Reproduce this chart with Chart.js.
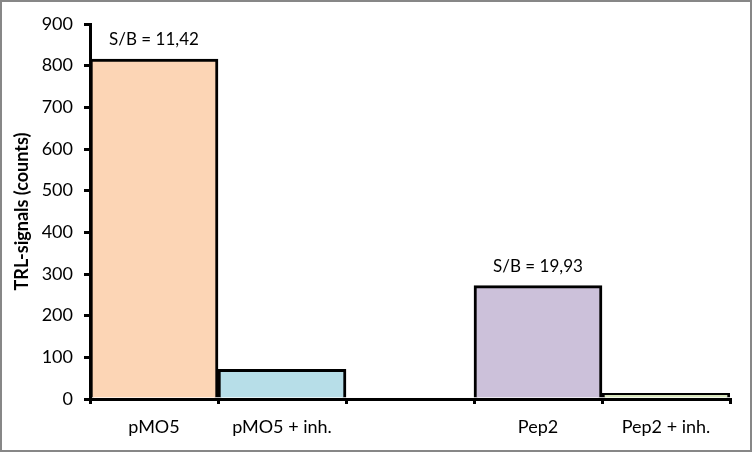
<!DOCTYPE html>
<html>
<head>
<meta charset="utf-8">
<script src="https://cdn.jsdelivr.net/npm/chart.js@4"></script>
<style>
html,body{margin:0;padding:0;background:#fff;}
#wrap{width:752px;height:452px;box-sizing:border-box;border:2px solid #878787;background:#fff;}
canvas{display:block;}
</style>
</head>
<body>
<div id="wrap"><canvas id="c" width="748" height="448"></canvas></div>
<script>
const categories = ['pMO5', 'pMO5 + inh.', '', 'Pep2', 'Pep2 + inh.'];
const signals = [816, 71.5, null, 272, 13.6];
const ratioLabels = ['S/B = 11,42', '', '', 'S/B = 19,93', ''];
const barColors = ['#fcd5b5', '#b7dee8', '#ffffff', '#ccc1da', '#d7e4bd'];
const yTicks = [0, 100, 200, 300, 400, 500, 600, 700, 800, 900];

const FONT = 'Lato, "Open Sans", sans-serif';

const ratioPlugin = {
  id: 'ratio',
  afterDatasetsDraw(chart) {
    const ctx = chart.ctx;
    const meta = chart.getDatasetMeta(0);
    ctx.save();
    ctx.font = '17px ' + FONT;
    ctx.fillStyle = '#000';
    ctx.textAlign = 'center';
    ctx.textBaseline = 'middle';
    ratioLabels.forEach((t, i) => {
      if (!t) return;
      const el = meta.data[i];
      ctx.fillText(t, el.x, el.y - 19);
    });
    ctx.restore();
  }
};

new Chart(document.getElementById('c'), {
  type: 'bar',
  data: {
    labels: categories,
    datasets: [{
      data: signals,
      backgroundColor: barColors,
      borderColor: '#000',
      borderWidth: 3,
      borderSkipped: 'bottom',
      categoryPercentage: 1.0,
      barPercentage: 1.0
    }]
  },
  options: {
    responsive: false,
    animation: false,
    events: [],
    layout: { padding: { top: 22, right: 20, bottom: 0, left: 0 } },
    plugins: { legend: { display: false }, tooltip: { enabled: false } },
    scales: {
      x: {
        offset: true,
        grid: { offset: true, drawOnChartArea: false, drawTicks: true, tickLength: 5, color: '#000', lineWidth: 3 },
        border: { display: true, color: '#000', width: 3 },
        ticks: { color: '#000', font: { size: 18, family: FONT }, padding: 12, maxRotation: 0, autoSkip: false },
        afterFit(s) { s.height = 51; }
      },
      y: {
        min: 0, max: 900,
        afterBuildTicks(s) { s.ticks = yTicks.map(v => ({ value: v })); },
        grid: { drawOnChartArea: false, drawTicks: true, tickLength: 6, color: '#000', lineWidth: 3 },
        border: { display: true, color: '#000', width: 3 },
        ticks: { color: '#000', font: { size: 18, family: FONT }, padding: 11 },
        title: { display: true, text: 'TRL-signals (counts)', color: '#000', font: { size: 18, weight: 'bold', family: FONT }, padding: { top: 9, bottom: 0 } },
        afterFit(s) { s.width = 88; }
      }
    }
  },
  plugins: [ratioPlugin]
});
</script>
</body>
</html>
